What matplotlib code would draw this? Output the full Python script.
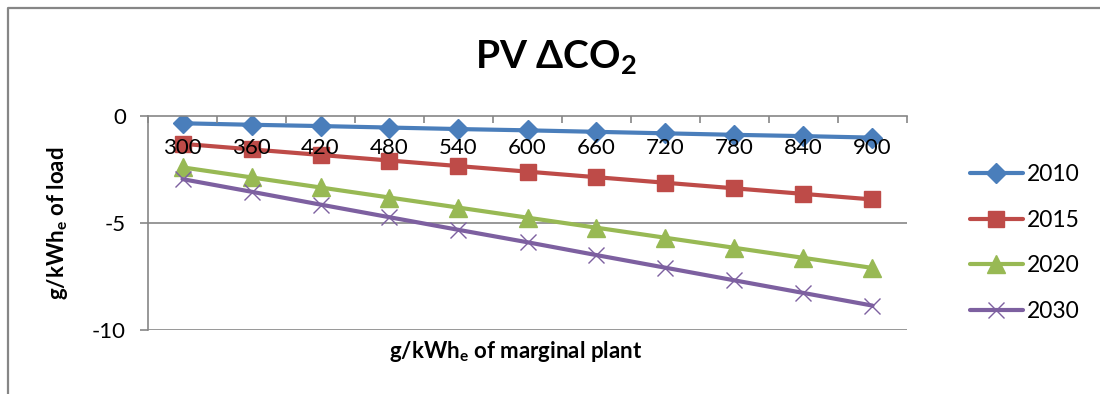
import matplotlib
matplotlib.use("Agg")
import matplotlib.pyplot as plt
from matplotlib.lines import Line2D
import numpy as np

plt.rcParams['font.family'] = ['Lato', 'DejaVu Sans']
plt.rcParams['mathtext.default'] = 'regular'

categories = ["300", "360", "420", "480", "540", "600", "660", "720", "780", "840", "900"]
s2010 = [-0.34, -0.41, -0.47, -0.54, -0.61, -0.67, -0.74, -0.81, -0.88, -0.94, -1.01]
s2015 = [-1.30, -1.56, -1.82, -2.08, -2.34, -2.60, -2.86, -3.12, -3.38, -3.64, -3.90]
s2020 = [-2.40, -2.87, -3.34, -3.81, -4.28, -4.75, -5.22, -5.69, -6.16, -6.63, -7.10]
s2030 = [-2.95, -3.54, -4.14, -4.73, -5.32, -5.90, -6.50, -7.09, -7.68, -8.27, -8.86]
series_names = ["2010", "2015", "2020", "2030"]
yticks = [0, -5, -10]

W, H = 1100, 394
fig = plt.figure(figsize=(W / 100, H / 100), dpi=100)
ax = fig.add_axes([148 / W, 1 - 330 / H, (907 - 148) / W, 214 / H])

x = np.arange(len(categories))
gray = "#868686"
styles = [
    dict(color="#4A7EBB", marker="D", ms=10.5),
    dict(color="#BE4B48", marker="s", ms=12),
    dict(color="#98B954", marker="^", ms=13),
    dict(color="#7D60A0", marker="x", ms=12, mew=1.0),
]
for name, vals, st in zip(series_names, [s2010, s2015, s2020, s2030], styles):
    mew = st.pop("mew", None)
    kw = {}
    if mew is not None:
        kw["markeredgewidth"] = mew
    ax.plot(x, vals, lw=3, label=name, solid_capstyle="round", zorder=2, **st, **kw)

ax.set_xlim(-0.5, len(categories) - 0.5)
ax.set_ylim(-10, 0)
ax.set_yticks(yticks)
ax.set_yticklabels([str(v) for v in yticks])
for yv in yticks[1:]:
    ax.axhline(yv, color=gray, lw=1.2, zorder=1)
ax.set_axisbelow(False)

for s in ["top", "right"]:
    ax.spines[s].set_visible(False)
ax.spines["bottom"].set_position(("data", 0))
ax.spines["bottom"].set_color(gray)
ax.spines["left"].set_color(gray)
ax.spines["bottom"].set_linewidth(1.2)
ax.spines["left"].set_linewidth(1.2)

ax.set_xticks(x)
ax.set_xticklabels(categories)
ax.set_xticks(np.arange(-0.5, len(categories)), minor=True)
ax.tick_params(axis="x", which="major", length=0, pad=16, labelsize=16)
ax.tick_params(axis="x", which="minor", length=5, color=gray, width=1.2, direction="out")
ax.tick_params(axis="y", which="major", length=6, color=gray, width=1.2, pad=10, labelsize=16)

fig.text(0.505, 1 - 57 / H, "PV ΔCO$_2$", ha="center", va="center", fontsize=28, fontweight="bold")
fig.text(0.469, 1 - 352 / H, "g/kWh$_e$ of marginal plant", ha="center", va="center",
         fontsize=16, fontweight="bold")
fig.text(0.052, 1 - 223 / H, "g/kWh$_e$ of load", ha="center", va="center", rotation=90,
         fontsize=16, fontweight="bold")

leg = ax.legend(loc="center left", bbox_to_anchor=(970 / W, 1 - 243 / H), bbox_transform=fig.transFigure,
                frameon=False, fontsize=16.5, handlelength=2.3, handletextpad=0.2, labelspacing=1.08,
                numpoints=1, borderaxespad=0, borderpad=0)

fig.add_artist(Line2D([8 / W, 8 / W, 1.0], [0, 1 - 8 / H, 1 - 8 / H], transform=fig.transFigure,
                      color=gray, lw=1.6))

fig.savefig("out.png", dpi=100)
